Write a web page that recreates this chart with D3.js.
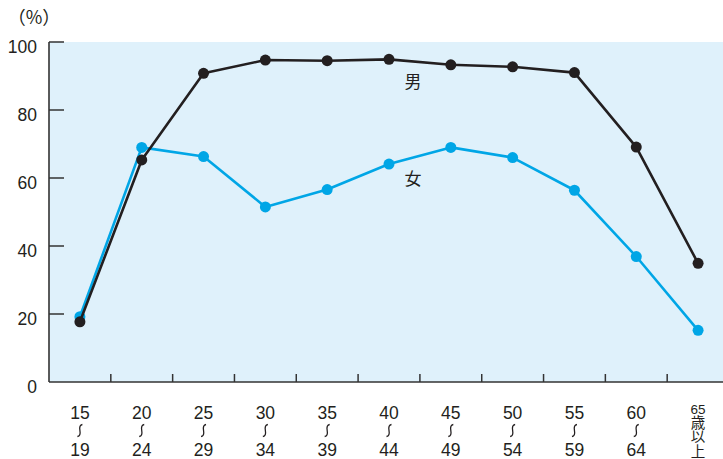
<!DOCTYPE html>
<html><head><meta charset="utf-8">
<script src="https://cdn.jsdelivr.net/npm/d3@7"></script>
<style>html,body{margin:0;padding:0;background:#fff;overflow:hidden}</style>
</head><body>
<svg id="c" width="723" height="459"></svg>
<script>
const categories = ["15-19","20-24","25-29","30-34","35-39","40-44","45-49","50-54","55-59","60-64","65+"];
const maleValues = [17.7,65.3,90.8,94.7,94.5,94.9,93.3,92.7,91.0,69.1,34.9];
const femaleValues = [19.2,69.0,66.3,51.5,56.6,64.1,69.0,66.0,56.4,36.9,15.2];
const yTicks = [0,20,40,60,80,100];
const xLabelTop = ["15","20","25","30","35","40","45","50","55","60"];
const xLabelBottom = ["19","24","29","34","39","44","49","54","59","64"];
const lastLabelNum = "65";
const lastLabelText = "歳以上";
const seriesLabels = ["男","女"];

(function(){
const svg = d3.select("#c");
const mLeft = 49, mTop = 42, mBottom = 382, mRight = 729;
const font = "'Liberation Sans', Arial, sans-serif";
const cjk = "'Noto Sans CJK JP', sans-serif";
const ink = "#231f20";

const x = d3.scaleBand().domain(categories).range([mLeft, mRight]).padding(0);
const y = d3.scaleLinear().domain([0,100]).range([mBottom, mTop]);
const cx = d => x(d) + x.bandwidth()/2;

svg.append("rect").attr("x", mLeft).attr("y", mTop).attr("width", mRight-mLeft).attr("height", mBottom-mTop).attr("fill", "#dff1fb");

const axisColor = "#333";
svg.selectAll(".yt").data(yTicks.filter(d=>d>0)).join("line")
  .attr("x1", mLeft).attr("x2", mLeft+15).attr("y1", d=>y(d)).attr("y2", d=>y(d))
  .attr("stroke", axisColor).attr("stroke-width", 1.5);
svg.selectAll(".yl").data(yTicks).join("text")
  .attr("x", 37).attr("y", d=>y(d)+6).attr("text-anchor","end").attr("dominant-baseline","middle")
  .attr("font-family", font).attr("font-size", 17.5).attr("fill", ink).text(d=>d);

svg.selectAll(".xt").data(categories.slice(1)).join("line")
  .attr("x1", d=>x(d)).attr("x2", d=>x(d)).attr("y1", mBottom).attr("y2", mBottom-8)
  .attr("stroke", axisColor).attr("stroke-width", 1.5);

svg.append("line").attr("x1", mLeft).attr("x2", mLeft).attr("y1", mTop).attr("y2", mBottom).attr("stroke", axisColor).attr("stroke-width", 1.6);
svg.append("line").attr("x1", mLeft).attr("x2", 723).attr("y1", mBottom).attr("y2", mBottom).attr("stroke", axisColor).attr("stroke-width", 1.6);

svg.append("text").attr("x", 34).attr("y", 19).attr("text-anchor","middle").attr("dominant-baseline","middle")
  .attr("font-family", cjk).attr("font-size", 18).attr("fill", ink).text("（%）");

const lab = svg.append("g");
categories.slice(0,10).forEach((c,i)=>{
  const xc = cx(c);
  lab.append("text").attr("x", xc).attr("y", 414).attr("text-anchor","middle").attr("dominant-baseline","middle")
    .attr("font-family", font).attr("font-size", 17.5).attr("fill", ink).text(xLabelTop[i]);
  lab.append("path")
    .attr("d", `M${xc+2.5},424.5 Q${xc-1},425 ${xc},430.5 Q${xc+1},436 ${xc-2.5},436.5`)
    .attr("fill","none").attr("stroke", ink).attr("stroke-width", 1.3);
  lab.append("text").attr("x", xc).attr("y", 451).attr("text-anchor","middle").attr("dominant-baseline","middle")
    .attr("font-family", font).attr("font-size", 17.5).attr("fill", ink).text(xLabelBottom[i]);
});
{
  const xc = cx(categories[10]);
  lab.append("text").attr("x", xc).attr("y", 410).attr("text-anchor","middle").attr("dominant-baseline","middle")
    .attr("font-family", font).attr("font-size", 13.5).attr("fill", ink).text(lastLabelNum);
  lab.append("text").attr("x", xc).attr("y", 415).attr("writing-mode","vertical-rl").attr("text-anchor","start")
    .attr("font-family", cjk).attr("font-size", 14.5).attr("fill", ink).text(lastLabelText);
}

const line = d3.line().x((d,i)=>cx(categories[i])).y(d=>y(d));
function drawSeries(vals, color){
  svg.append("path").datum(vals).attr("d", line).attr("fill","none").attr("stroke", color).attr("stroke-width", 2.6).attr("stroke-linejoin","round");
  svg.append("g").selectAll("circle").data(vals).join("circle")
    .attr("cx", (d,i)=>cx(categories[i])).attr("cy", d=>y(d)).attr("r", 5.5).attr("fill", color);
}
drawSeries(femaleValues, "#00a6e6");
drawSeries(maleValues, ink);

svg.append("text").attr("x", 413).attr("y", 83).attr("text-anchor","middle").attr("dominant-baseline","middle")
  .attr("font-family", cjk).attr("font-size", 17).attr("fill", ink).text(seriesLabels[0]);
svg.append("text").attr("x", 413).attr("y", 180).attr("text-anchor","middle").attr("dominant-baseline","middle")
  .attr("font-family", cjk).attr("font-size", 17).attr("fill", ink).text(seriesLabels[1]);
})();
</script>
</body></html>
